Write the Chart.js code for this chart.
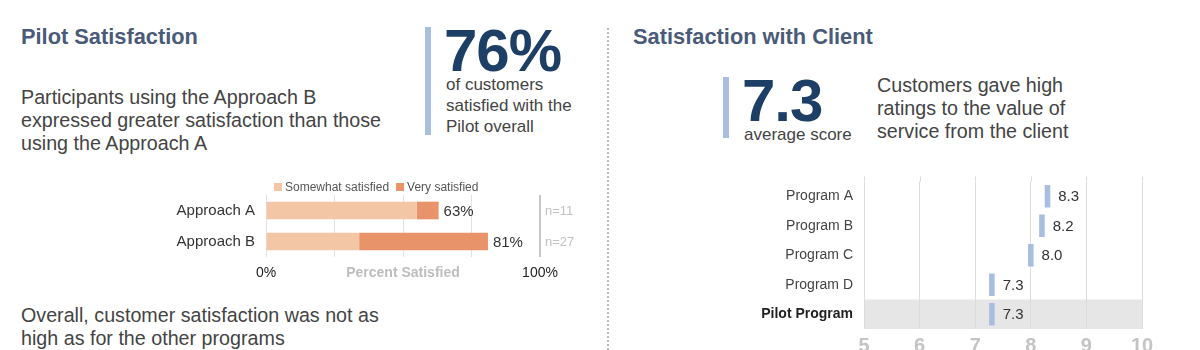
<!DOCTYPE html>
<html>
<head>
<meta charset="utf-8">
<script src="https://cdn.jsdelivr.net/npm/chart.js@4"></script>
<style>
  html, body { margin: 0; padding: 0; background: #fff; }
  body { width: 1200px; height: 350px; overflow: hidden; position: relative; font-family: "Liberation Sans", Arial, sans-serif; }
  .abs { position: absolute; white-space: nowrap; }
  .title { font-size: 21.8px; font-weight: bold; color: #4a5a78; line-height: 24px; }
  .body { font-size: 19.7px; color: #444; line-height: 23px; }
  .big { font-size: 60px; font-weight: bold; color: #1d3f66; line-height: 60px; letter-spacing: -1px; }
  .small { font-size: 17px; color: #444; line-height: 21px; }
  .vbar { position: absolute; width: 6px; background: #a9bfdf; }
  canvas { position: absolute; }
</style>
</head>
<body>
  <div class="abs title" style="left:21px; top:25px;">Pilot Satisfaction</div>
  <div class="abs body" style="left:21px; top:86px;">Participants using the Approach B<br>expressed greater satisfaction than those<br>using the Approach A</div>
  <div class="vbar" style="left:425px; top:27px; height:108px;"></div>
  <div class="abs big" style="left:444px; top:21px;">76%</div>
  <div class="abs small" style="left:446px; top:74px;">of customers<br>satisfied with the<br>Pilot overall</div>
  <div class="abs body" style="left:21px; top:304px;">Overall, customer satisfaction was not as<br>high as for the other programs</div>

  <div class="abs" style="left:607px; top:28px; height:330px; border-left:2px dotted #bbb;"></div>

  <div class="abs title" style="left:633px; top:25px;">Satisfaction with Client</div>
  <div class="vbar" style="left:723px; top:77px; height:61px;"></div>
  <div class="abs big" style="left:742px; top:71px;">7.3</div>
  <div class="abs small" style="left:744px; top:124px;">average score</div>
  <div class="abs body" style="left:877px; top:74px;">Customers gave high<br>ratings to the value of<br>service from the client</div>

  <canvas id="approachChart" width="432" height="109" style="left:160px; top:175px;"></canvas>
  <canvas id="programChart" width="440" height="208" style="left:740px; top:162px;"></canvas>

<script>
// left chart data
const approaches = ["Approach A", "Approach B"];
const somewhatSatisfied = [55, 34];
const verySatisfied = [8, 47];
const sampleSizes = [11, 27];
const percentTicks = [0, 25, 50, 75, 100];

// right chart data
const programs = ["Program A", "Program B", "Program C", "Program D", "Pilot Program"];
const scores = [8.3, 8.2, 8.0, 7.3, 7.3];
const scoreTicks = [5, 6, 7, 8, 9, 10];

Chart.defaults.font.family = "'Liberation Sans', Arial, sans-serif";
Chart.defaults.animation = false;

// small legend drawn just above the plot area
const approachLegend = {
    id: "approachLegend",
    afterDraw(chart) {
        const { ctx, chartArea } = chart;
        let x = chartArea.left + 8;
        const y = chartArea.top - 8;
        ctx.save();
        ctx.font = "12px 'Liberation Sans', Arial";
        ctx.textBaseline = "middle";
        chart.data.datasets.forEach((ds) => {
            ctx.fillStyle = ds.backgroundColor;
            ctx.fillRect(x, y - 4, 8, 8);
            ctx.fillStyle = "#555";
            ctx.fillText(ds.label, x + 11, y + 0.5);
            x += 11 + ctx.measureText(ds.label).width + 7;
        });
        ctx.restore();
    }
};

// total % + n= labels for the stacked bars
const approachLabels = {
    id: "approachLabels",
    afterDatasetsDraw(chart) {
        const { ctx, chartArea } = chart;
        const meta = chart.getDatasetMeta(1);
        ctx.save();
        ctx.textBaseline = "middle";
        meta.data.forEach((bar, i) => {
            const total = somewhatSatisfied[i] + verySatisfied[i];
            ctx.font = "15px 'Liberation Sans', Arial";
            ctx.fillStyle = "#333";
            ctx.textAlign = "left";
            ctx.fillText(total + "%", bar.x + 5, bar.y + 1);
            ctx.font = "13px 'Liberation Sans', Arial";
            ctx.fillStyle = "#c2c2c2";
            ctx.fillText("n=" + sampleSizes[i], chartArea.right + 5, bar.y + 1);
        });
        ctx.restore();
    }
};

new Chart(document.getElementById("approachChart"), {
    type: "bar",
    data: {
        labels: approaches,
        datasets: [
            { label: "Somewhat satisfied", data: somewhatSatisfied, backgroundColor: "#f3c6a6" },
            { label: "Very satisfied", data: verySatisfied, backgroundColor: "#e8936a" }
        ]
    },
    options: {
        indexAxis: "y",
        responsive: false,
        categoryPercentage: 1,
        barPercentage: 0.57,
        layout: { padding: { right: 52 } },
        plugins: { tooltip: { enabled: false }, legend: { display: false } },
        scales: {
            x: {
                stacked: true,
                min: 0,
                max: 100,
                afterBuildTicks: (scale) => { scale.ticks = percentTicks.map(v => ({ value: v })); },
                afterFit: (scale) => { scale.height = 27; },
                grid: {
                    drawTicks: false,
                    color: (c) => c.tick && c.tick.value === 100 ? "#c6c6c6" : "#e2e2e2",
                    lineWidth: (c) => c.tick && c.tick.value === 100 ? 2 : 1
                },
                border: { display: false },
                ticks: {
                    padding: 8,
                    maxRotation: 0,
                    autoSkip: false,
                    callback: (v) => v === 0 ? "0%" : v === 100 ? "100%" : v === 50 ? "Percent Satisfied" : "",
                    color: (c) => c.tick && c.tick.value === 50 ? "#bdbdbd" : "#222",
                    font: (c) => c.tick && c.tick.value === 50 ? { size: 14, weight: "bold" } : { size: 14 }
                }
            },
            y: {
                stacked: true,
                afterFit: (scale) => { scale.width = 106; },
                grid: { display: false, drawTicks: false },
                border: { display: false },
                ticks: { color: "#333", font: { size: 15 }, padding: 11 }
            }
        }
    },
    plugins: [approachLabels, approachLegend]
});

// grey band behind the pilot row, plus the short grid overhang above the rows
const pilotBand = {
    id: "pilotBand",
    beforeDraw(chart) {
        const { ctx, chartArea, scales } = chart;
        const rowH = (chartArea.bottom - chartArea.top) / programs.length;
        const yc = scales.y.getPixelForValue(programs.length - 1);
        ctx.save();
        ctx.fillStyle = "#e6e6e6";
        ctx.fillRect(chartArea.left, yc - rowH / 2, chartArea.right - chartArea.left, rowH);
        ctx.strokeStyle = "#dcdcdc";
        ctx.lineWidth = 1;
        scoreTicks.forEach((t) => {
            const x = Math.round(scales.x.getPixelForValue(t)) + 0.5;
            ctx.beginPath();
            ctx.moveTo(x, chartArea.top - 5);
            ctx.lineTo(x, chartArea.top);
            ctx.stroke();
        });
        ctx.restore();
    }
};

const scoreLabels = {
    id: "scoreLabels",
    afterDatasetsDraw(chart) {
        const { ctx } = chart;
        const meta = chart.getDatasetMeta(0);
        ctx.save();
        ctx.font = "15px 'Liberation Sans', Arial";
        ctx.fillStyle = "#333";
        ctx.textBaseline = "middle";
        meta.data.forEach((bar, i) => {
            ctx.fillText(scores[i].toFixed(1), bar.x + 8, bar.y + 1);
        });
        ctx.restore();
    }
};

const markerHalf = 0.05;

new Chart(document.getElementById("programChart"), {
    type: "bar",
    data: {
        labels: programs,
        datasets: [{
            data: scores.map(v => [v - markerHalf, v + markerHalf]),
            backgroundColor: "#a8bee0"
        }]
    },
    options: {
        indexAxis: "y",
        responsive: false,
        categoryPercentage: 1,
        barPercentage: 0.76,
        layout: { padding: { right: 38 } },
        plugins: { legend: { display: false }, tooltip: { enabled: false } },
        scales: {
            x: {
                min: 5,
                max: 10,
                afterBuildTicks: (scale) => { scale.ticks = scoreTicks.map(v => ({ value: v })); },
                afterFit: (scale) => { scale.height = 41; },
                grid: { drawTicks: false, color: "#dcdcdc" },
                border: { display: false },
                ticks: { padding: 5, color: "#c4c4c4", font: { size: 20, weight: "bold" } }
            },
            y: {
                afterFit: (scale) => { scale.width = 124; },
                grid: { display: false, drawTicks: false },
                border: { display: false },
                ticks: {
                    padding: 11,
                    color: (c) => c.index === programs.length - 1 ? "#222" : "#444",
                    font: (c) => c.index === programs.length - 1 ? { size: 14, weight: "bold" } : { size: 14 }
                }
            }
        }
    },
    plugins: [pilotBand, scoreLabels]
});
</script>
</body>
</html>
